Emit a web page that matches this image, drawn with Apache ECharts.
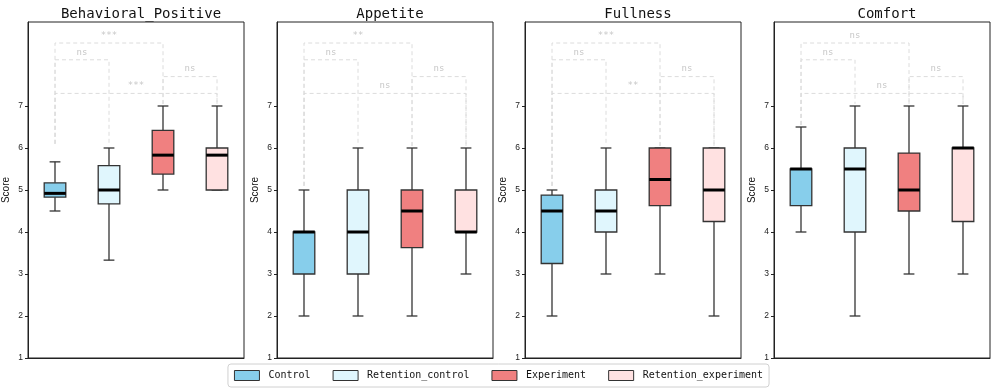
<!DOCTYPE html>
<html>
<head>
<meta charset="utf-8">
<script src="https://cdn.jsdelivr.net/npm/echarts@6/dist/echarts.min.js"></script>
<style>
html,body{margin:0;padding:0;background:#fff;}
#main{width:997px;height:392px;}
</style>
</head>
<body>
<div id="main"></div>
<script>
// groups and panels
var groups = ['Control', 'Retention_control', 'Experiment', 'Retention_experiment'];
var groupColors = ['#87CEEB', '#E0F6FD', '#F08080', '#FFE1E1'];
var metrics = ['Behavioral_Positive', 'Appetite', 'Fullness', 'Comfort'];

// [min, q1, median, q3, max] per group
var behavioralPositive = [
    [4.5, 4.83, 4.92, 5.17, 5.67],
    [3.33, 4.67, 5.0, 5.58, 6.0],
    [5.0, 5.38, 5.83, 6.42, 7.0],
    [5.0, 5.0, 5.83, 6.0, 7.0]
];
var appetite = [
    [2, 3, 4, 4, 5],
    [2, 3, 4, 5, 6],
    [2, 3.63, 4.5, 5, 6],
    [3, 4, 4, 5, 6]
];
var fullness = [
    [2, 3.25, 4.5, 4.88, 5],
    [3, 4, 4.5, 5, 6],
    [3, 4.63, 5.25, 6, 6],
    [2, 4.25, 5, 6, 6]
];
var comfort = [
    [4, 4.63, 5.5, 5.5, 6.5],
    [2, 4, 5.5, 6, 7],
    [3, 4.5, 5, 5.88, 7],
    [3, 4.25, 6, 6, 7]
];
var panelData = [behavioralPositive, appetite, fullness, comfort];

// significance brackets: group pairs, heights, labels, leg ends
var sigPairs = [[0, 2], [0, 1], [2, 3], [0, 3]];
var sigHeights = [8.5, 8.1, 7.7, 7.3];
var sigLabels = [
    ['***', 'ns', 'ns', '***'],
    ['**', 'ns', 'ns', 'ns'],
    ['***', 'ns', 'ns', '**'],
    ['ns', 'ns', 'ns', 'ns']
];
var legEnds = [
    [6.1, 6.05, 7.05, 7.05],
    [5.1, 6.05, 6.05, 6.05],
    [5.1, 6.05, 6.05, 6.05],
    [6.55, 7.05, 7.05, 7.05]
];
var yTicks = [1, 2, 3, 4, 5, 6, 7];

var chart = echarts.init(document.getElementById('main'));

var panelLeft = [28, 277, 525, 774];
var panelWidth = 216;
var monoFont = 'DejaVu Sans Mono';

function renderBox(params, api) {
    var x = api.value(0);
    var lo = api.coord([x, api.value(1)]);
    var q1 = api.coord([x, api.value(2)]);
    var md = api.coord([x, api.value(3)]);
    var q3 = api.coord([x, api.value(4)]);
    var hi = api.coord([x, api.value(5)]);
    var w = api.size([1, 0])[0] * 0.4;
    var cx = lo[0];
    var line = {stroke: '#333', lineWidth: 1.3};
    var kids = [
        {type: 'line', shape: {x1: cx, y1: lo[1], x2: cx, y2: q1[1]}, style: line},
        {type: 'line', shape: {x1: cx, y1: q3[1], x2: cx, y2: hi[1]}, style: line},
        {type: 'line', shape: {x1: cx - w / 4, y1: lo[1], x2: cx + w / 4, y2: lo[1]}, style: line},
        {type: 'line', shape: {x1: cx - w / 4, y1: hi[1], x2: cx + w / 4, y2: hi[1]}, style: line},
        {type: 'rect', shape: {x: cx - w / 2, y: q3[1], width: w, height: q1[1] - q3[1]},
            style: {fill: api.visual('color'), stroke: '#333', lineWidth: 1.3}},
        {type: 'line', shape: {x1: cx - w / 2, y1: md[1], x2: cx + w / 2, y2: md[1]},
            style: {stroke: '#000', lineWidth: 3}}
    ];
    return {type: 'group', children: kids};
}

function makeSigRender(labels) {
    return function (params, api) {
        var a = api.value(0), b = api.value(1), h = api.value(2);
        var pa = api.coord([a, h]);
        var pb = api.coord([b, h]);
        var ea = api.coord([a, api.value(3)]);
        var eb = api.coord([b, api.value(4)]);
        var dash = {stroke: '#dcdcdc', lineWidth: 1, lineDash: [4, 3], fill: null};
        return {type: 'group', children: [
            {type: 'polyline', shape: {points: [ea, pa, pb, eb]}, style: dash},
            {type: 'text', x: (pa[0] + pb[0]) / 2, y: pa[1] - 3,
                style: {text: labels[params.dataIndex], fill: '#c8c8c8', fontSize: 9,
                    fontFamily: monoFont, align: 'center', verticalAlign: 'bottom'}}
        ]};
    };
}

var grids = [], xAxes = [], yAxes = [], titles = [], series = [];

for (var p = 0; p < 4; p++) {
    grids.push({left: panelLeft[p], width: panelWidth, top: 22, height: 336,
        show: true, borderColor: '#222', borderWidth: 1});
    titles.push({text: metrics[p], left: panelLeft[p] + panelWidth / 2, top: 2,
        textAlign: 'center',
        textStyle: {fontFamily: monoFont, fontSize: 14, fontWeight: 'normal', color: '#111'}});
    xAxes.push({type: 'category', gridIndex: p, data: groups, boundaryGap: true,
        axisLine: {lineStyle: {color: '#222'}},
        axisTick: {alignWithLabel: true, length: 3, lineStyle: {color: '#222'}},
        axisLabel: {show: false}, splitLine: {show: false}});
    yAxes.push({type: 'value', gridIndex: p, min: 1, max: 9, interval: 1,
        name: 'Score', nameLocation: 'middle', nameGap: 17,
        nameTextStyle: {fontFamily: 'Liberation Sans', fontSize: 10, color: '#111'},
        axisLine: {show: true, lineStyle: {color: '#222'}},
        axisTick: {show: true, length: 3, customValues: yTicks, lineStyle: {color: '#222'}},
        axisLabel: {fontSize: 8.5, color: '#222', margin: 5, fontFamily: 'Liberation Sans',
            customValues: yTicks},
        splitLine: {show: false}});

    for (var g = 0; g < 4; g++) {
        var d = panelData[p][g];
        series.push({name: groups[g], type: 'custom', xAxisIndex: p, yAxisIndex: p,
            itemStyle: {color: groupColors[g]}, renderItem: renderBox,
            encode: {x: 0, y: [1, 2, 3, 4, 5]},
            data: [[g, d[0], d[1], d[2], d[3], d[4]]]});
    }

    var sigData = [];
    for (var k = 0; k < sigPairs.length; k++) {
        var a = sigPairs[k][0], b = sigPairs[k][1];
        sigData.push([a, b, sigHeights[k], legEnds[p][a], legEnds[p][b]]);
    }
    series.push({name: 'sig' + p, type: 'custom', xAxisIndex: p, yAxisIndex: p,
        renderItem: makeSigRender(sigLabels[p]), silent: true, z: 1,
        encode: {x: [0, 1], y: [2, 3, 4]}, data: sigData});
}

var legendData = groups.map(function (g, i) {
    return {name: g, icon: 'rect',
        itemStyle: {color: groupColors[i], borderColor: '#333', borderWidth: 1}};
});

chart.setOption({
    animation: false,
    title: titles,
    grid: grids,
    xAxis: xAxes,
    yAxis: yAxes,
    legend: {data: legendData, left: 'center', top: 364, itemWidth: 25, itemHeight: 10,
        itemGap: 22, padding: [6, 6], borderColor: '#d0d0d0', borderWidth: 1, borderRadius: 3,
        textStyle: {fontFamily: monoFont, fontSize: 10, color: '#111', padding: [0, 0, 0, 4]}},
    series: series
});
</script>
</body>
</html>
